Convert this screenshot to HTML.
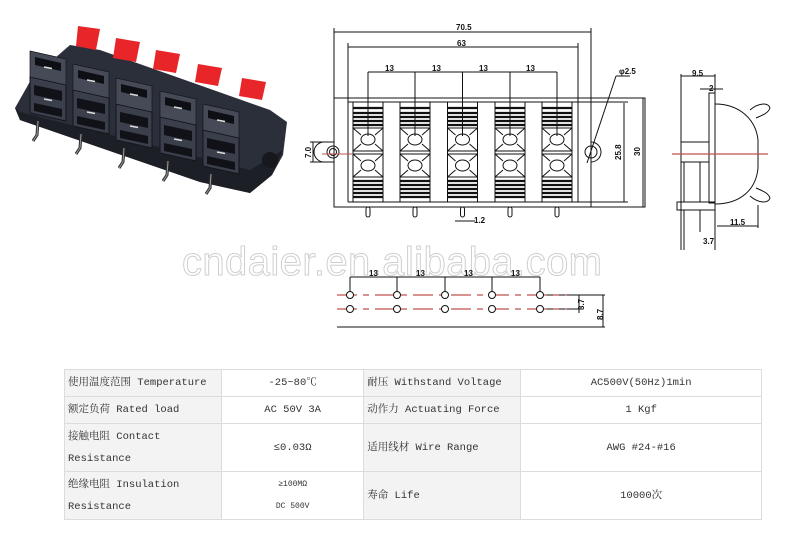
<!DOCTYPE html>
<html><head><meta charset="utf-8"><style>
body{margin:0;background:#fff;width:787px;height:546px;overflow:hidden;position:relative}
svg{position:absolute;left:0;top:0}
table{position:absolute;left:64px;top:369px;width:698px;border-collapse:collapse;font-family:"Liberation Mono","Noto Serif CJK SC",monospace;font-size:10.5px;color:#333}
td{border:1px solid #dcdcdc;padding:0 3px;height:26px;line-height:22px}
td.l{background:#f3f3f3;width:150px}
td.v{text-align:center;background:#fff}
</style></head><body>
<svg width="787" height="546" viewBox="0 0 787 546" font-family="Liberation Sans, sans-serif">
<defs>
<g id="blk">
<polygon points="0,0 36,8 36,44 0,36" fill="#3a3f4b" stroke="#14161c"/>
<polygon points="4,8 32,14 32,24 4,18" fill="#101218"/>
<polygon points="4,26 32,32 32,40 4,34" fill="#101218"/>
<line x1="14" y1="22" x2="22" y2="23.5" stroke="#ddd" stroke-width="1.5"/>
<polygon points="4,-22 32,-16 32,-6 4,-12" fill="#101218"/>
<polygon points="0,-26 36,-18 36,8 0,0" fill="#454a56" stroke="#14161c" stroke-width="0.7"/>
<polygon points="5,-20 31,-14 31,-6 5,-12" fill="#0d0f14"/>
<line x1="14" y1="-10" x2="22" y2="-8.5" stroke="#ddd" stroke-width="1.5"/>
<path d="M8,44 L7,58 L3,64" stroke="#2e2e2e" stroke-width="3" fill="none"/>
<path d="M8,44 L7,58 L3,64" stroke="#9a9a9a" stroke-width="1" fill="none"/>
</g>
</defs>
<!-- photo -->
<g>
<polygon points="15,108 32,78 70,45 100,50 270,110 287,122 283,155 272,175 250,193 200,182 20,120" fill="#2b2f3a"/>
<polygon points="15,108 20,120 200,182 250,193 272,175 283,150 250,170 20,112" fill="#1c1f26"/>
<g fill="#e8262a">
<polygon points="78,26 100,29 96,50 76,46"/><polygon points="116,38 140,42 136,62 113,58"/><polygon points="156,50 180,54 176,73 153,69"/><polygon points="198,64 222,68 218,86 195,82"/><polygon points="242,78 266,82 262,100 239,96"/>
</g>
<use href="#blk" x="30" y="77"/><use href="#blk" x="73" y="90"/><use href="#blk" x="116" y="104"/><use href="#blk" x="160" y="117"/><use href="#blk" x="203" y="130"/>
<circle cx="270" cy="160" r="8" fill="#16181e"/>
</g>
<!-- watermark -->
<text x="182" y="275" font-size="40" fill="none" stroke="#cfcfcf" stroke-width="1" textLength="420">cndaier.en.alibaba.com</text>
<!-- front drawing -->
<g stroke="#111" stroke-width="1" fill="none">
<rect x="334" y="98" width="311" height="109"/>
<line x1="334" y1="98" x2="334" y2="28"/><line x1="591" y1="207" x2="591" y2="28"/>
<line x1="334" y1="32" x2="591" y2="32"/>
<line x1="348" y1="102" x2="348" y2="43"/><line x1="578" y1="102" x2="578" y2="43"/>
<line x1="348" y1="47" x2="578" y2="47"/>
<line x1="368" y1="72" x2="557" y2="72"/>
<line x1="348" y1="102" x2="628" y2="102"/><line x1="348" y1="102" x2="348" y2="202"/><line x1="578" y1="102" x2="578" y2="202"/><line x1="348" y1="202" x2="628" y2="202"/>
<line x1="624" y1="103" x2="624" y2="202"/><line x1="643" y1="98" x2="643" y2="207"/>
<path d="M334,142 h-10 a8 8 0 0 0 0 20 h10"/><circle cx="333" cy="152" r="6"/><circle cx="333" cy="152" r="3.5"/>
<path d="M591,142 a10 10 0 0 1 0 20"/><circle cx="591" cy="152" r="6"/><line x1="587" y1="163" x2="616" y2="76"/><line x1="616" y1="76" x2="630" y2="76"/>
<line x1="310" y1="142" x2="324" y2="142"/><line x1="310" y1="162" x2="324" y2="162"/><line x1="313" y1="142" x2="313" y2="162"/>
<line x1="455" y1="221" x2="475" y2="221"/>
</g>
<g font-size="8" font-weight="bold" fill="#111">
<text x="456" y="30">70.5</text><text x="457" y="46">63</text>
<text x="385" y="71">13</text><text x="432" y="71">13</text><text x="479" y="71">13</text><text x="526" y="71">13</text>
<text x="619" y="74">φ2.5</text><text x="474" y="223">1.2</text>
<text transform="translate(621,160) rotate(-90)">25.8</text><text transform="translate(640,156) rotate(-90)">30</text><text transform="translate(311,158) rotate(-90)">7.0</text>
</g>
<!-- terminals -->
<g stroke="#111" stroke-width="1" fill="none">
<g id="term">
<rect x="353" y="102" width="30" height="100" fill="#fff"/>
<g stroke-width="2.2"><line x1="353" y1="108" x2="383" y2="108"/><line x1="353" y1="113" x2="383" y2="113"/><line x1="353" y1="117" x2="383" y2="117"/><line x1="353" y1="121" x2="383" y2="121"/><line x1="353" y1="125" x2="383" y2="125"/>
<line x1="353" y1="181" x2="383" y2="181"/><line x1="353" y1="185" x2="383" y2="185"/><line x1="353" y1="189" x2="383" y2="189"/><line x1="353" y1="193" x2="383" y2="193"/><line x1="353" y1="197" x2="383" y2="197"/></g>
<rect x="353" y="128" width="30" height="23"/><rect x="353" y="154" width="30" height="23"/>
<ellipse cx="368" cy="139.5" rx="7" ry="5.5"/><ellipse cx="368" cy="165.5" rx="7" ry="5.5"/>
<path d="M353,128 L361,135 M383,128 L375,135 M353,151 L361,144 M383,151 L375,144 M353,154 L361,161 M383,154 L375,161 M353,177 L361,170 M383,177 L375,170"/>
<line x1="368" y1="72" x2="368" y2="136"/>
<rect x="366" y="207" width="4" height="10" rx="2"/>
</g>
<use href="#term" x="47"/><use href="#term" x="94.5"/><use href="#term" x="142"/><use href="#term" x="189"/>
</g>
<!-- side view -->
<g stroke="#111" stroke-width="1" fill="none">
<line x1="681" y1="74" x2="681" y2="250"/><line x1="715" y1="74" x2="715" y2="250"/>
<line x1="681" y1="76" x2="715" y2="76"/>
<rect x="709" y="93" width="6" height="110"/>
<line x1="700" y1="89" x2="723" y2="89"/>
<line x1="681" y1="142" x2="709" y2="142"/><line x1="681" y1="162" x2="709" y2="162"/>
<path d="M715,104 C740,104 756,120 758,140 L758,168 C756,190 740,204 715,204"/>
<path d="M750,110 C758,103 768,102 770,108 C768,114 760,116 756,118"/>
<path d="M750,196 C758,203 768,204 770,198 C768,192 760,190 756,188"/>
<line x1="684" y1="162" x2="684" y2="202"/><line x1="700" y1="162" x2="700" y2="202"/>
<rect x="677" y="202" width="38" height="8"/>
<line x1="684" y1="210" x2="684" y2="250"/><line x1="700" y1="210" x2="700" y2="232"/>
<line x1="717" y1="226" x2="758" y2="226"/><line x1="758" y1="205" x2="758" y2="228"/>
</g>
<line x1="672" y1="154" x2="768" y2="154" stroke="#c0504d" stroke-width="1.2"/>
<line x1="322" y1="154" x2="352" y2="154" stroke="#c0504d" stroke-width="1"/>
<g font-size="8" font-weight="bold" fill="#111"><text x="692" y="76">9.5</text><text x="709" y="91">2</text><text x="730" y="225">11.5</text><text x="703" y="244">3.7</text></g>
<!-- bottom pin view -->
<g stroke="#111" stroke-width="1" fill="none">
<line x1="350" y1="277" x2="540" y2="277"/>
<line x1="350" y1="277" x2="350" y2="291"/><line x1="397" y1="277" x2="397" y2="291"/><line x1="445" y1="277" x2="445" y2="291"/><line x1="492" y1="277" x2="492" y2="291"/><line x1="540" y1="277" x2="540" y2="291"/>
<line x1="337" y1="327" x2="605" y2="327"/>
<line x1="540" y1="295" x2="605" y2="295"/><line x1="540" y1="309" x2="582" y2="309"/>
<line x1="579" y1="295" x2="579" y2="313"/><line x1="603" y1="295" x2="603" y2="327"/>
</g>
<g stroke="#c0504d" stroke-width="1.2" stroke-dasharray="20,6,6,6">
<line x1="337" y1="295" x2="567" y2="295"/><line x1="337" y1="309" x2="567" y2="309"/>
</g>
<g stroke="#111" stroke-width="1" fill="#fff">
<circle cx="350" cy="295" r="3.5"/><circle cx="397" cy="295" r="3.5"/><circle cx="445" cy="295" r="3.5"/><circle cx="492" cy="295" r="3.5"/><circle cx="540" cy="295" r="3.5"/>
<circle cx="350" cy="309" r="3.5"/><circle cx="397" cy="309" r="3.5"/><circle cx="445" cy="309" r="3.5"/><circle cx="492" cy="309" r="3.5"/><circle cx="540" cy="309" r="3.5"/>
</g>
<g font-size="8" font-weight="bold" fill="#111"><text x="369" y="276">13</text><text x="416" y="276">13</text><text x="464" y="276">13</text><text x="511" y="276">13</text>
<text transform="translate(584,310) rotate(-90)">3.7</text><text transform="translate(603,320) rotate(-90)">8.7</text></g>
</svg>
<table>
<tr><td class="l">使用温度范围 Temperature</td><td class="v">-25~80℃</td><td class="l">耐压 Withstand Voltage</td><td class="v">AC500V(50Hz)1min</td></tr>
<tr><td class="l">额定负荷 Rated load</td><td class="v">AC 50V 3A</td><td class="l">动作力 Actuating Force</td><td class="v">1 Kgf</td></tr>
<tr><td class="l" style="height:47px">接触电阻 Contact<br>Resistance</td><td class="v">≤0.03Ω</td><td class="l">适用线材 Wire Range</td><td class="v">AWG #24-#16</td></tr>
<tr><td class="l" style="height:47px">绝缘电阻 Insulation<br>Resistance</td><td class="v" style="font-size:8px">≥100MΩ<br>DC 500V</td><td class="l">寿命 Life</td><td class="v">10000次</td></tr>
</table>
</body></html>
